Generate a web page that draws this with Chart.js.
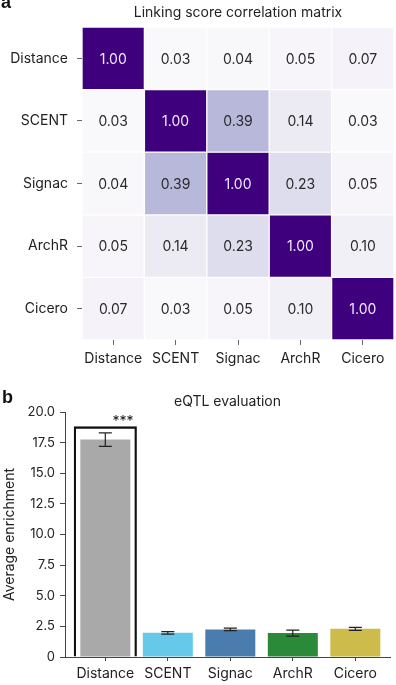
<!DOCTYPE html>
<html>
<head>
<meta charset="utf-8">
<script src="https://cdn.jsdelivr.net/npm/chart.js@4.4.1/dist/chart.umd.min.js"></script>
<style>
  html, body { margin: 0; padding: 0; background: #fff; }
  #wrap { position: relative; width: 396px; height: 685px; overflow: hidden; }
  canvas { position: absolute; left: 0; }
  #c1 { top: 0; }
  #c2 { top: 372px; }
</style>
</head>
<body>
<div id="wrap">
  <canvas id="c1" width="396" height="372"></canvas>
  <canvas id="c2" width="396" height="313"></canvas>
</div>
<script>
// ---------- DATA ----------
const methods = ['Distance', 'SCENT', 'Signac', 'ArchR', 'Cicero'];
const rowDistance = [1.00, 0.03, 0.04, 0.05, 0.07];
const rowSCENT    = [0.03, 1.00, 0.39, 0.14, 0.03];
const rowSignac   = [0.04, 0.39, 1.00, 0.23, 0.05];
const rowArchR    = [0.05, 0.14, 0.23, 1.00, 0.10];
const rowCicero   = [0.07, 0.03, 0.05, 0.10, 1.00];
const corrRows = [rowDistance, rowSCENT, rowSignac, rowArchR, rowCicero];

const enrichMean = [17.75, 1.97, 2.25, 1.95, 2.30];
const enrichErr  = [0.55, 0.10, 0.10, 0.25, 0.12];
const sigBoxTop  = [18.8, null, null, null, null];
const sigLabel   = '***';
const enrichTicks = [0, 2.5, 5, 7.5, 10, 12.5, 15, 17.5, 20];

const barColors = ['#a9a9a9', '#66c9ea', '#4a7cae', '#2a8a3a', '#cdbc4b'];

// ---------- HELPERS ----------
Chart.defaults.font.family = 'Inter, Roboto, "DejaVu Sans", sans-serif';
Chart.defaults.color = '#222';

const purples = ['#fcfbfd','#efedf5','#dadaeb','#bcbddc','#9e9ac8','#807dba','#6a51a3','#54278f','#3f007d'];
function hex2rgb(h){ return [1,3,5].map(i => parseInt(h.substr(i,2),16)); }
function purpleColor(v){
  const t = Math.max(0, Math.min(1, v)) * (purples.length - 1);
  const i = Math.min(Math.floor(t), purples.length - 2);
  const f = t - i;
  const a = hex2rgb(purples[i]), b = hex2rgb(purples[i+1]);
  const c = a.map((x, k) => Math.round(x + (b[k] - x) * f));
  return `rgb(${c[0]},${c[1]},${c[2]})`;
}

const textPlugin = {
  id: 'panelText',
  afterDraw(chart, args, opts) {
    const ctx = chart.ctx, ca = chart.chartArea;
    ctx.save();
    ctx.fillStyle = '#111';
    ctx.font = 'bold 18px "Liberation Sans", Arial, sans-serif';
    ctx.textAlign = 'left';
    ctx.textBaseline = 'alphabetic';
    ctx.fillText(opts.letter, opts.letterX, opts.letterY);
    ctx.fillStyle = '#222';
    ctx.font = '14px Inter, Roboto, sans-serif';
    ctx.textAlign = 'center';
    ctx.textBaseline = 'middle';
    ctx.fillText(opts.title, (ca.left + ca.right) / 2, opts.titleY);
    ctx.restore();
  }
};

// ---------- HEATMAP ----------
const cellLabelPlugin = {
  id: 'cellLabels',
  afterDatasetsDraw(chart) {
    const ctx = chart.ctx;
    ctx.save();
    ctx.font = '14px Inter, Roboto, sans-serif';
    ctx.textAlign = 'center';
    ctx.textBaseline = 'middle';
    chart.data.datasets.forEach((ds, r) => {
      const meta = chart.getDatasetMeta(r);
      meta.data.forEach((el, c) => {
        const v = corrRows[r][c];
        const p = el.getCenterPoint();
        ctx.fillStyle = v > 0.6 ? '#f1eaff' : '#2a2a2a';
        ctx.fillText(v.toFixed(2), p.x, p.y + 1);
      });
    });
    ctx.restore();
  }
};

const heatDatasets = corrRows.map((row, r) => ({
  label: methods[r],
  data: row.map(() => [r, r + 1]),
  backgroundColor: row.map(v => purpleColor(v)),
  borderColor: 'rgba(255,255,255,0.85)',
  borderWidth: 1,
  borderSkipped: false,
  barPercentage: 1,
  categoryPercentage: 1,
  grouped: false
}));

new Chart(document.getElementById('c1'), {
  type: 'bar',
  data: { labels: methods, datasets: heatDatasets },
  plugins: [cellLabelPlugin, textPlugin],
  options: {
    responsive: false,
    animation: false,
    layout: { padding: { top: 27, right: 2, left: 0, bottom: 0 } },
    plugins: {
      legend: { display: false },
      tooltip: { enabled: false },
      title: { display: false },
      panelText: { letter: 'a', letterX: 1, letterY: 8, title: 'Linking score correlation matrix', titleY: 13 }
    },
    scales: {
      x: {
        type: 'category',
        offset: true,
        grid: { display: true, offset: false, drawOnChartArea: false, drawTicks: true, tickLength: 5, color: '#666', lineWidth: 1 },
        border: { display: false },
        ticks: { font: { size: 14 }, color: '#222', padding: 5, autoSkip: false, maxRotation: 0 },
        afterFit: s => { s.height = 32; }
      },
      y: {
        type: 'linear',
        min: 0, max: 5,
        reverse: true,
        afterBuildTicks: s => { s.ticks = methods.map((m, i) => ({ value: i + 0.5 })); },
        ticks: {
          autoSkip: false,
          font: { size: 14 }, color: '#222', padding: 9,
          callback: v => methods[Math.round(v - 0.5)]
        },
        grid: { display: true, drawOnChartArea: false, drawTicks: true, tickLength: 5, color: '#666', lineWidth: 1 },
        border: { display: false },
        afterFit: s => { s.width = 82; }
      }
    }
  }
});

// ---------- BAR CHART ----------
const errorBarPlugin = {
  id: 'errorBars',
  afterDatasetsDraw(chart) {
    const ctx = chart.ctx, ys = chart.scales.y;
    const meta = chart.getDatasetMeta(1);
    ctx.save();
    ctx.strokeStyle = '#222';
    ctx.lineWidth = 1.2;
    meta.data.forEach((el, i) => {
      const top = ys.getPixelForValue(enrichMean[i] + enrichErr[i]);
      const bot = ys.getPixelForValue(enrichMean[i] - enrichErr[i]);
      const hw = 6.5;
      ctx.beginPath();
      ctx.moveTo(el.x, top); ctx.lineTo(el.x, bot);
      ctx.moveTo(el.x - hw, top); ctx.lineTo(el.x + hw, top);
      ctx.moveTo(el.x - hw, bot); ctx.lineTo(el.x + hw, bot);
      ctx.stroke();
    });
    // significance label
    const boxMeta = chart.getDatasetMeta(0);
    boxMeta.data.forEach((el, i) => {
      if (sigBoxTop[i] == null) return;
      ctx.fillStyle = '#111';
      ctx.font = '14px Inter, Roboto, sans-serif';
      ctx.textAlign = 'center';
      ctx.textBaseline = 'middle';
      ctx.fillText(sigLabel, el.x + el.width / 2 - 13.5, el.y - 5);
    });
    ctx.restore();
  }
};

new Chart(document.getElementById('c2'), {
  type: 'bar',
  data: {
    datasets: [
      {
        label: 'significance',
        data: sigBoxTop.map((v, i) => ({ x: i, y: v })).filter(d => d.y != null),
        backgroundColor: 'rgba(0,0,0,0)',
        borderColor: '#111',
        borderWidth: 1.6,
        borderSkipped: 'bottom',
        barPercentage: 1,
        categoryPercentage: 1,
        grouped: false,
        order: 2
      },
      {
        label: 'Average enrichment',
        data: enrichMean.map((v, i) => ({ x: i, y: v })),
        backgroundColor: barColors,
        borderWidth: 0,
        barPercentage: 0.8,
        categoryPercentage: 1,
        grouped: false,
        order: 1
      }
    ]
  },
  plugins: [errorBarPlugin, textPlugin],
  options: {
    responsive: false,
    animation: false,
    layout: { padding: { top: 40, right: 6, left: 0, bottom: 0 } },
    plugins: {
      legend: { display: false },
      tooltip: { enabled: false },
      title: { display: false },
      panelText: { letter: 'b', letterX: 2, letterY: 31, title: 'eQTL evaluation', titleY: 30 }
    },
    scales: {
      x: {
        type: 'linear',
        offset: false,
        min: -0.645, max: 4.555,
        afterBuildTicks: s => { s.ticks = methods.map((m, i) => ({ value: i })); },
        ticks: { autoSkip: false, font: { size: 14 }, color: '#222', padding: 4, maxRotation: 0,
          callback: v => methods[v] },
        grid: { display: true, offset: false, drawOnChartArea: false, drawTicks: true, tickLength: 4, color: '#444', lineWidth: 1 },
        border: { display: true, color: '#444', width: 1 },
        afterFit: s => { s.height = 28; }
      },
      y: {
        type: 'linear',
        min: 0, max: 20,
        afterBuildTicks: s => { s.ticks = enrichTicks.map(v => ({ value: v })); },
        ticks: { autoSkip: false, font: { size: 13 }, color: '#222', padding: 5,
          callback: v => v === 0 ? '0' : v.toFixed(1) },
        grid: { display: true, drawOnChartArea: false, drawTicks: true, tickLength: 5, color: '#444', lineWidth: 1 },
        border: { display: true, color: '#444', width: 1 },
        title: { display: true, text: 'Average enrichment', font: { size: 14 }, color: '#222', padding: { top: 1, bottom: 0 } },
        afterFit: s => { s.width = 65; }
      }
    }
  }
});
</script>
</body>
</html>
